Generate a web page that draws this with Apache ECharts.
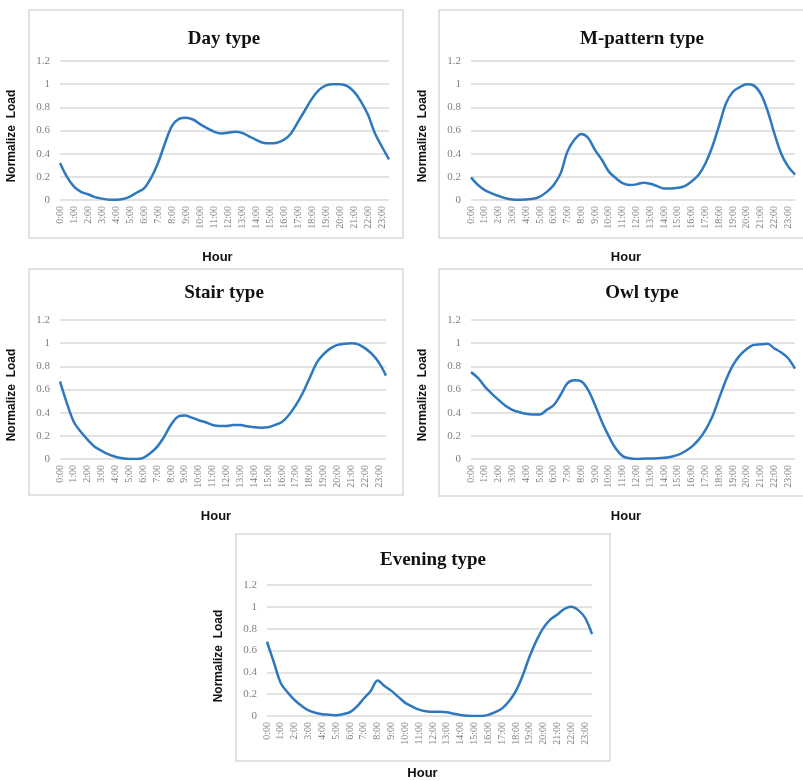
<!DOCTYPE html>
<html>
<head>
<meta charset="utf-8">
<script src="https://cdn.jsdelivr.net/npm/echarts@6/dist/echarts.min.js"></script>
<style>html,body{margin:0;padding:0;background:#fff}#c{width:803px;height:781px}</style>
</head>
<body>
<div id="c"></div>
<script>
const hours = ["0:00","0:30","1:00","1:30","2:00","2:30","3:00","3:30","4:00","4:30","5:00","5:30",
  "6:00","6:30","7:00","7:30","8:00","8:30","9:00","9:30","10:00","10:30","11:00","11:30",
  "12:00","12:30","13:00","13:30","14:00","14:30","15:00","15:30","16:00","16:30","17:00","17:30",
  "18:00","18:30","19:00","19:30","20:00","20:30","21:00","21:30","22:00","22:30","23:00","23:30"];

const panelTitles = ["Day type","M-pattern type","Stair type","Owl type","Evening type"];
const yTitle = "Normalize  Load";
const xTitle = "Hour";

const dayType = [0.32,0.2,0.115,0.07,0.05,0.025,0.012,0.003,0.002,0.008,0.03,0.065,
  0.1,0.19,0.32,0.49,0.64,0.7,0.71,0.695,0.655,0.62,0.59,0.575,
  0.58,0.59,0.58,0.55,0.52,0.495,0.49,0.495,0.52,0.575,0.675,0.775,
  0.875,0.95,0.99,1.0,1.0,0.985,0.935,0.85,0.735,0.575,0.46,0.35];

const mPatternType = [0.195,0.13,0.085,0.057,0.035,0.015,0.005,0.002,0.005,0.01,0.03,0.07,
  0.13,0.23,0.42,0.52,0.57,0.535,0.43,0.345,0.245,0.19,0.145,0.13,
  0.135,0.15,0.14,0.12,0.1,0.1,0.105,0.12,0.16,0.215,0.315,0.46,
  0.645,0.835,0.935,0.975,1.0,0.99,0.92,0.775,0.575,0.4,0.29,0.22];

const stairType = [0.67,0.48,0.32,0.235,0.165,0.105,0.07,0.04,0.02,0.006,0.0,0.0,
  0.01,0.05,0.105,0.19,0.295,0.365,0.375,0.357,0.335,0.317,0.294,0.285,
  0.285,0.294,0.294,0.282,0.274,0.27,0.274,0.294,0.32,0.38,0.465,0.57,
  0.7,0.83,0.905,0.955,0.985,0.995,1.0,0.99,0.955,0.905,0.83,0.72];

const owlType = [0.75,0.7,0.625,0.565,0.51,0.46,0.425,0.405,0.39,0.385,0.385,0.425,
  0.465,0.555,0.655,0.68,0.67,0.595,0.465,0.32,0.195,0.09,0.025,0.006,
  0.0,0.003,0.005,0.006,0.01,0.02,0.035,0.065,0.105,0.165,0.25,0.365,
  0.525,0.685,0.81,0.895,0.95,0.985,0.99,0.994,0.955,0.92,0.87,0.78];

const eveningType = [0.68,0.49,0.3,0.215,0.145,0.093,0.052,0.03,0.015,0.012,0.008,0.017,
  0.035,0.087,0.16,0.23,0.325,0.275,0.23,0.175,0.12,0.087,0.058,0.043,
  0.038,0.04,0.035,0.02,0.01,0.003,0.0,0.0,0.01,0.035,0.07,0.135,
  0.23,0.375,0.55,0.695,0.81,0.885,0.93,0.98,1.0,0.97,0.9,0.75];

const seriesData = [dayType, mPatternType, stairType, owlType, eveningType];

// layout (pixels)
const grids = [
  {left: 60,  top: 61,  width: 329, height: 139},
  {left: 471, top: 61,  width: 324, height: 139},
  {left: 60,  top: 320, width: 326, height: 139},
  {left: 471, top: 320, width: 324, height: 139},
  {left: 267, top: 585, width: 325, height: 138}
];
const frames = [
  [29, 10, 374, 228],
  [439, 10, 374, 228],
  [29, 269, 374, 226],
  [439, 269, 374, 227],
  [236, 534, 374, 227]
];
const titlePos = [[219, 25], [637, 25], [219, 279], [637, 279], [428, 546]];

const blue = '#2e78bf';
const labelFont = '"Liberation Serif", "DejaVu Serif", serif';
const sansFont = '"Liberation Sans", Arial, sans-serif';

const option = {
  backgroundColor: '#fff',
  animation: false,
  title: panelTitles.map((t, i) => ({
    text: t,
    left: titlePos[i][0],
    top: titlePos[i][1],
    textAlign: 'center',
    textStyle: {fontFamily: labelFont, fontWeight: 'bold', fontSize: 19, color: '#111'}
  })),
  graphic: frames.map(f => ({
    type: 'rect', silent: true, z: -1,
    shape: {x: f[0], y: f[1], width: f[2], height: f[3]},
    style: {fill: 'none', stroke: '#d9d9d9', lineWidth: 1.5}
  })),
  grid: grids.map(g => Object.assign({containLabel: false}, g)),
  xAxis: grids.map((g, i) => ({
    type: 'category',
    gridIndex: i,
    data: hours,
    boundaryGap: false,
    name: xTitle,
    nameLocation: 'middle',
    nameGap: 51,
    nameTextStyle: {fontFamily: sansFont, fontWeight: 'bold', fontSize: 13, color: '#111', padding: [0, 14, 0, 0]},
    axisLine: {show: false},
    axisTick: {show: false},
    axisLabel: {interval: 1, rotate: 90, margin: 6, fontFamily: labelFont, fontSize: 10, color: '#7f7f7f'},
    splitLine: {show: false}
  })),
  yAxis: grids.map((g, i) => ({
    type: 'value',
    gridIndex: i,
    min: 0, max: 1.2, interval: 0.2,
    name: yTitle,
    nameLocation: 'middle',
    nameGap: 42,
    nameTextStyle: {fontFamily: sansFont, fontWeight: 'bold', fontSize: 12, color: '#111', padding: [0, 11, 0, 0]},
    axisLine: {show: false},
    axisTick: {show: false},
    axisLabel: {margin: 10, fontFamily: labelFont, fontSize: 11, color: '#7f7f7f'},
    splitLine: {show: true, lineStyle: {color: '#d9d9d9', width: 1.5}}
  })),
  series: seriesData.map((d, i) => ({
    type: 'line',
    xAxisIndex: i,
    yAxisIndex: i,
    data: d,
    smooth: 0.35,
    showSymbol: false,
    lineStyle: {color: blue, width: 2.5},
    itemStyle: {color: blue}
  }))
};

const chart = echarts.init(document.getElementById('c'), null, {renderer: 'canvas'});
chart.setOption(option);
</script>
</body>
</html>
